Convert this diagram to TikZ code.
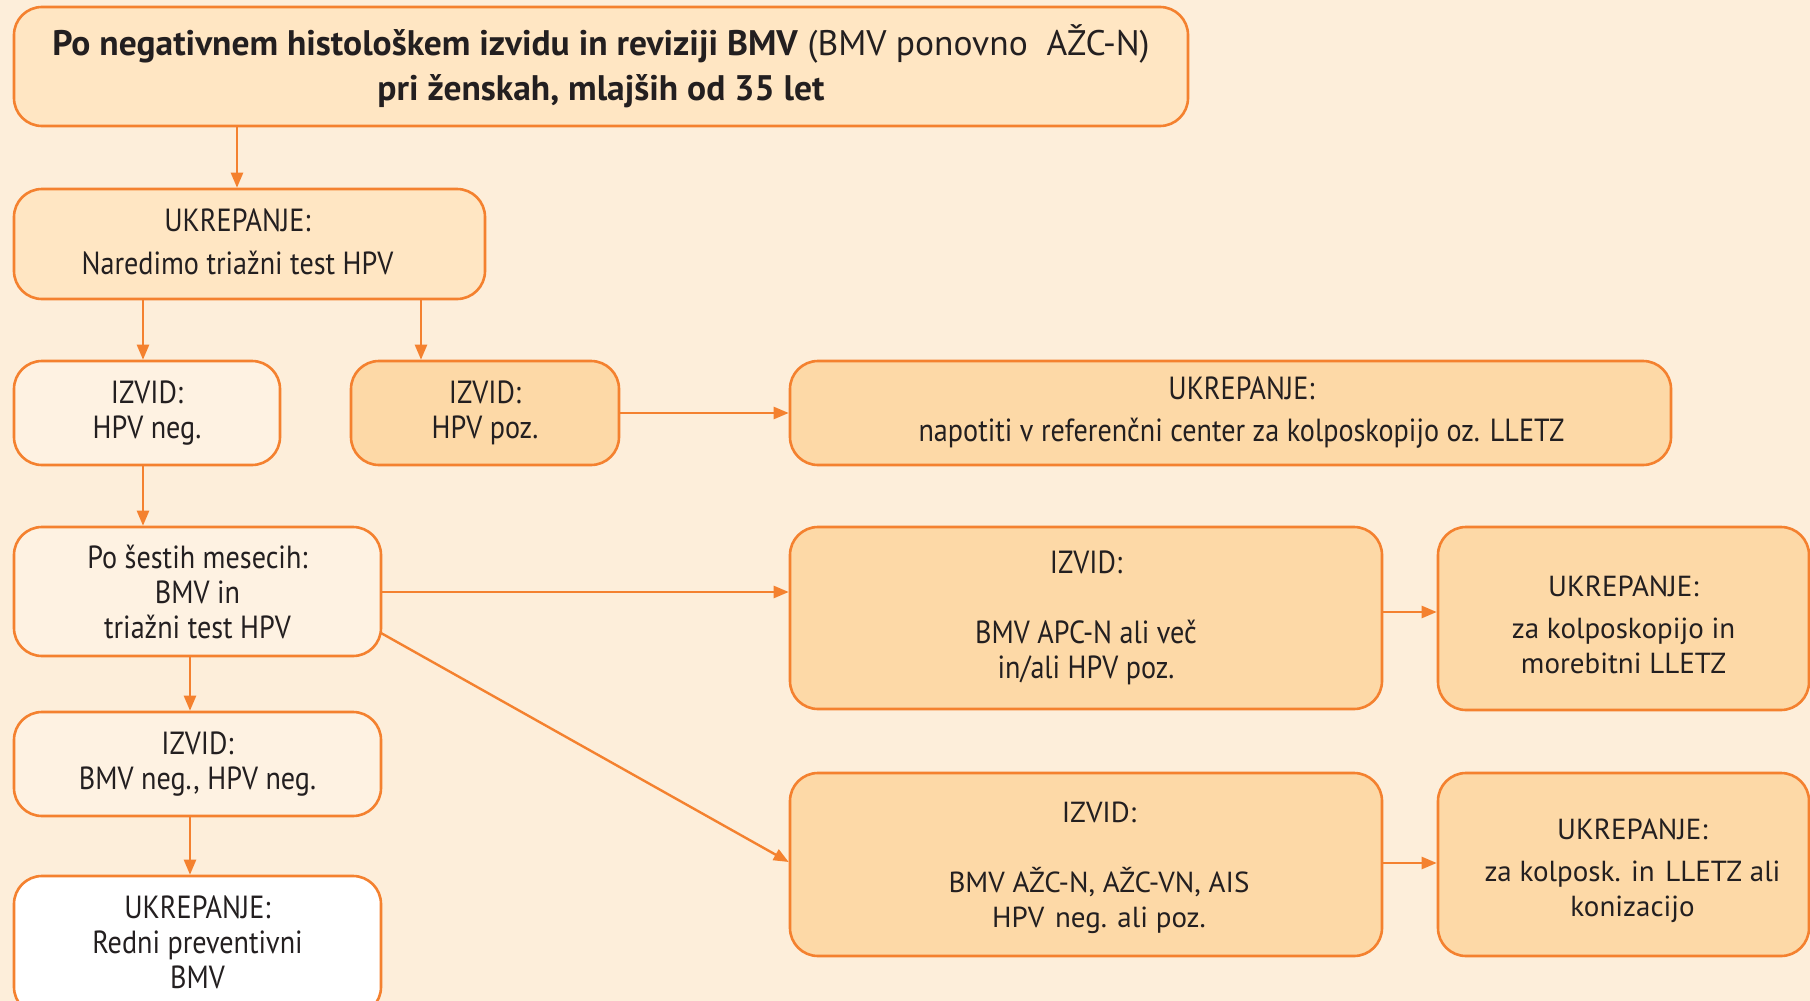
\documentclass[tikz,border=0pt]{standalone}
\usepackage{fontspec}
\setmainfont{PT Sans}
\newfontfamily\nfont{PT Sans}
\newfontfamily\cfont[FakeStretch=0.88]{PT Sans}
\usetikzlibrary{arrows.meta}
\definecolor{bgc}{HTML}{FDEEDA}
\definecolor{edgec}{HTML}{F4812F}
\definecolor{fillA}{HTML}{FFE6C3}
\definecolor{fillB}{HTML}{FEF2E2}
\definecolor{fillC}{HTML}{FDD9A7}
\definecolor{txtc}{HTML}{231F20}
\tikzset{
  box/.style={draw=edgec, line width=2.6pt, rounded corners=28pt, inner sep=0pt,
    align=center, text=txtc},
  ntext/.style={font=\nfont\fontsize{29}{35}\selectfont},
  ctext/.style={font=\cfont\fontsize{32}{35}\selectfont},
  tlabel/.style={align=center, text=txtc, inner sep=0pt},
  arr/.style={draw=edgec, line width=2.4pt, -{Triangle[length=15pt,width=12pt]}},
}
\begin{document}
\begin{tikzpicture}[x=1pt,y=-1pt]
\useasboundingbox (0,0) rectangle (1810,1001);
\fill[bgc] (0,0) rectangle (1810,1001);
% boxes
\node[box, fill=fillA, minimum width=1174pt, minimum height=119pt,
  font=\nfont\fontsize{35.5}{45}\selectfont] (top) at (601,66.5)
  {\textbf{Po negativnem histološkem izvidu in reviziji BMV} (BMV ponovno\ \ AŽC-N)\\ \textbf{pri ženskah, mlajših od 35 let}};
\node[box, fill=fillA, minimum width=471pt, minimum height=110pt] (ukr1) at (249.5,244) {};
\node[tlabel, ctext] (ukr1T) at ([xshift=-12pt,yshift=2pt]ukr1.center)
  {UKREPANJE:\\[8pt] Naredimo triažni test HPV};
\node[box, ctext, fill=fillB, minimum width=266pt, minimum height=104pt] (hpvneg) at (147,413)
  {IZVID:\\ HPV neg.};
\node[box, ctext, fill=fillC, minimum width=268pt, minimum height=104pt] (hpvpoz) at (485,413)
  {IZVID:\\ HPV poz.};
\node[box, fill=fillC, minimum width=881pt, minimum height=104pt] (ukr2) at (1230.5,413) {};
\node[tlabel, ctext] (ukr2T) at ([xshift=11pt]ukr2.center)
  {UKREPANJE:\\[7pt] napotiti v referenčni center za kolposkopijo oz. LLETZ};
\node[box, ctext, fill=fillB, minimum width=367pt, minimum height=129pt] (sest) at (197.5,591.5)
  {Po šestih mesecih:\\ BMV in\\ triažni test HPV};
\node[box, ctext, fill=fillB, minimum width=367pt, minimum height=104pt] (bmvneg) at (197.5,764)
  {IZVID:\\ BMV neg., HPV neg.};
\node[box, fill=white, minimum width=367pt, minimum height=139pt] (redni) at (197.5,945.5) {};
\node[tlabel, ctext] (redniT) at ([yshift=3pt]redni.center)
  {UKREPANJE:\\ Redni preventivni\\ BMV};
\node[box, ctext, fill=fillC, minimum width=592pt, minimum height=182pt] (apc) at (1086,618)
  {IZVID:\\ \mbox{}\\ BMV APC-N ali več\\ in/ali HPV poz.};
\node[box, fill=fillC, minimum width=371pt, minimum height=183pt] (kolp) at (1623.5,618.5) {};
\node[tlabel, ntext] (kolpT) at ([yshift=-6pt]kolp.center)
  {UKREPANJE:\\[7pt] za kolposkopijo in\\ morebitni LLETZ};
\node[box, fill=fillC, minimum width=592pt, minimum height=183pt] (azc) at (1086,864.5) {};
\node[tlabel, ntext] (azcT) at ([xshift=13pt,yshift=-3pt]azc.center)
  {IZVID:\\ \mbox{}\\ BMV AŽC-N, AŽC-VN, AIS\\ HPV\hspace{3pt} neg. ali poz.};
\node[box, fill=fillC, minimum width=371pt, minimum height=183pt] (koniz) at (1623.5,864.5) {};
\node[tlabel, ntext] (konizT) at ([xshift=9pt,yshift=-6pt]koniz.center)
  {UKREPANJE:\\[7pt] za kolposk. in\hspace{3pt} LLETZ ali\\ konizacijo};
% connectors
\coordinate (c1) at (237,0);
\coordinate (c2) at (143,0);
\coordinate (c3) at (421,0);
\coordinate (c4) at (190,0);
\coordinate (d1) at (381,633);
\coordinate (d2) at (0,592);
\coordinate (d3) at (0,612);
\coordinate (d4) at (0,863);
\coordinate (d5) at (0,862);
\draw[arr] (top.south -| c1) -- (ukr1.north -| c1);
\draw[arr] (ukr1.south -| c2) -- (hpvneg.north -| c2);
\draw[arr] (ukr1.south -| c3) -- (hpvpoz.north -| c3);
\draw[arr] (hpvpoz.east) -- (ukr2.west);
\draw[arr] (hpvneg.south -| c2) -- (sest.north -| c2);
\draw[arr] (sest.east |- d2) -- (apc.west |- d2);
\draw[arr] (d1) -- (azc.west |- d5);
\draw[arr] (sest.south -| c4) -- (bmvneg.north -| c4);
\draw[arr] (bmvneg.south -| c4) -- (redni.north -| c4);
\draw[arr] (apc.east |- d3) -- (kolp.west |- d3);
\draw[arr] (azc.east |- d4) -- (koniz.west |- d4);
\end{tikzpicture}
\end{document}
